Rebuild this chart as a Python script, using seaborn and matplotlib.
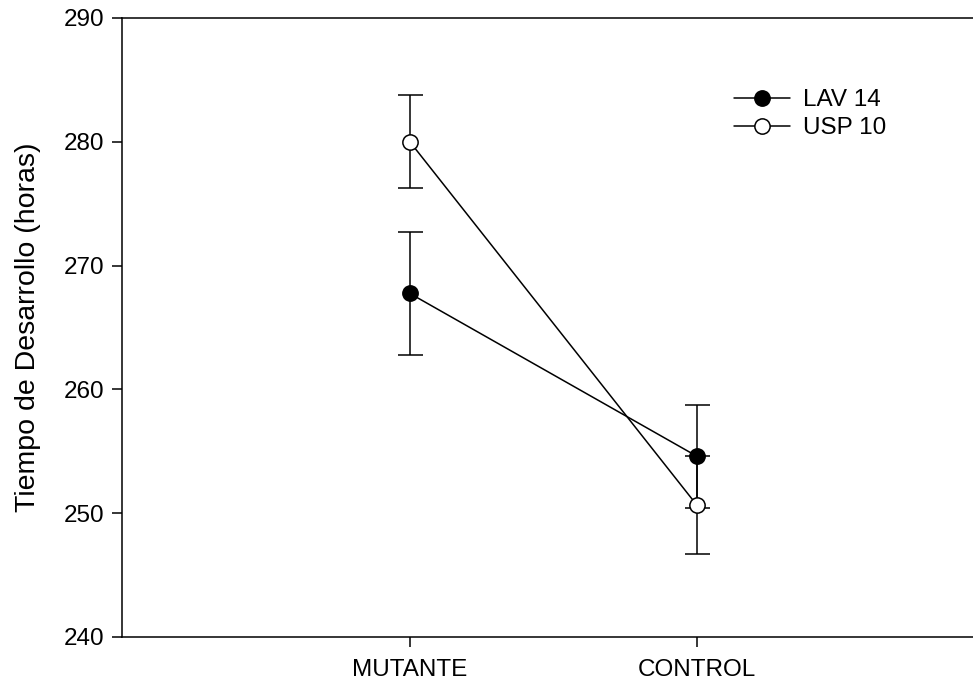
import matplotlib
matplotlib.use("Agg")
import matplotlib.pyplot as plt
import seaborn as sns
import pandas as pd

# Mean development time per group with standard error
groups = ["MUTANTE", "CONTROL"]
lav14_mean = [267.75, 254.6]
lav14_err = [4.95, 4.15]
usp10_mean = [280.0, 250.65]
usp10_err = [3.75, 3.95]
y_ticks = [240, 250, 260, 270, 280, 290]

sns.set_theme(style="white")
plt.rcParams["font.family"] = ["Liberation Sans", "DejaVu Sans"]

fig = plt.figure(figsize=(9.73, 6.86), dpi=100)
ax = fig.add_axes([122 / 973, 49 / 686, 851 / 973, 619 / 686])

pos = list(range(len(groups)))
df = pd.DataFrame({
    "pos": pos * 2,
    "mean": lav14_mean + usp10_mean,
    "err": lav14_err + usp10_err,
    "line": ["LAV 14"] * 2 + ["USP 10"] * 2,
})

face = {"LAV 14": "black", "USP 10": "white"}
for name, sub in df.groupby("line", sort=False):
    ax.errorbar(sub["pos"], sub["mean"], yerr=sub["err"], fmt="none",
                ecolor="black", elinewidth=1.1, capsize=9, capthick=1.1,
                zorder=2)
    sns.lineplot(data=sub, x="pos", y="mean", ax=ax, color="black",
                 linewidth=1.1, marker="o", markersize=11,
                 markerfacecolor=face[name], markeredgecolor="black",
                 markeredgewidth=1.1, label=name, zorder=3)

ax.set_xlim(-1.003, 1.962)
ax.set_ylim(240, 290)
ax.set_xticks(pos)
ax.set_xticklabels(groups, fontsize=17.5)
ax.set_yticks(y_ticks)
ax.set_yticklabels([str(t) for t in y_ticks], fontsize=17.5)
ax.set_xlabel("")
ax.set_ylabel("Tiempo de Desarrollo (horas)", fontsize=20.5, color="black",
              labelpad=16)

for side in ["left", "bottom", "top"]:
    ax.spines[side].set_visible(True)
    ax.spines[side].set_color("black")
    ax.spines[side].set_linewidth(1.1)
ax.spines["right"].set_visible(False)
ax.tick_params(axis="both", which="major", direction="out", length=7,
               width=1.1, color="black", labelcolor="black",
               bottom=True, left=True, top=False, right=False)
ax.tick_params(axis="x", pad=9)
ax.tick_params(axis="y", pad=6)
ax.grid(False)

leg = ax.legend(loc="upper left", bbox_to_anchor=(0.719, 0.885),
                frameon=False, fontsize=17.5, handlelength=2.3,
                handletextpad=0.55, labelspacing=0.25, borderaxespad=0,
                borderpad=0)
for text in leg.get_texts():
    text.set_color("black")

fig.savefig("out.png", dpi=100, facecolor="white")
